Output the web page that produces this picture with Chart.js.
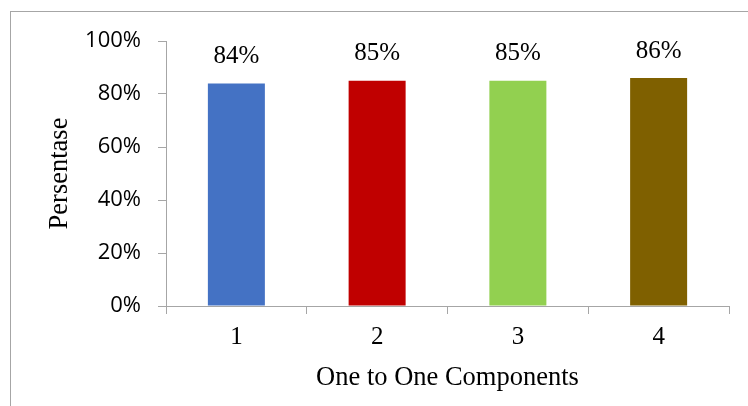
<!DOCTYPE html>
<html>
<head>
<meta charset="utf-8">
<script src="https://cdn.jsdelivr.net/npm/chart.js@4"></script>
<style>
  html, body { margin: 0; padding: 0; background: #fff; }
  #wrap { position: relative; width: 748px; height: 406px; overflow: hidden; }
  #frame { position: absolute; left: 10px; top: 11px; width: 800px; height: 500px; border: 1px solid #a6a6a6; }
  canvas { position: absolute; left: 0; top: 0; }
</style>
</head>
<body>
<div id="wrap">
  <div id="frame"></div>
  <canvas id="barChart" width="748" height="406"></canvas>
</div>
<script>
// chart data
const categories = ['1', '2', '3', '4'];
const values = [84, 85, 85, 86];
const barColors = ['#4472C4', '#C00000', '#92D050', '#7F6000'];
const yTicks = [0, 20, 40, 60, 80, 100];

const serif = "'Liberation Serif', 'Times New Roman', serif";
const sans = "'Open Sans', 'Liberation Sans', sans-serif";

// ── value labels above bars ──
const valueLabels = {
  id: 'valueLabels',
  afterDatasetsDraw(chart) {
    const ctx = chart.ctx;
    const meta = chart.getDatasetMeta(0);
    ctx.save();
    ctx.font = '25px ' + serif;
    ctx.fillStyle = '#000';
    ctx.textAlign = 'center';
    ctx.textBaseline = 'middle';
    meta.data.forEach((bar, i) => {
      ctx.fillText(values[i] + '%', bar.x, bar.y - 27);
    });
    ctx.restore();
  }
};

new Chart(document.getElementById('barChart'), {
  type: 'bar',
  data: {
    labels: categories,
    datasets: [{
      data: values,
      backgroundColor: barColors,
      borderWidth: 0,
      barPercentage: 0.405,
      categoryPercentage: 1
    }]
  },
  options: {
    responsive: false,
    animation: false,
    layout: { padding: { top: 41, right: 19, left: 0, bottom: 0 } },
    plugins: {
      legend: { display: false },
      tooltip: { enabled: false }
    },
    scales: {
      x: {
        afterFit: s => { s.height = 100; },
        grid: { drawOnChartArea: false, tickLength: 8, color: '#a6a6a6' },
        border: { color: '#a6a6a6' },
        ticks: { color: '#000', font: { family: serif, size: 25 }, padding: 8 },
        title: {
          display: true,
          text: 'One to One Components',
          color: '#000',
          font: { family: serif, size: 26.5 },
          padding: { top: 0, bottom: 12 }
        }
      },
      y: {
        min: 0,
        max: 100,
        afterFit: s => { s.width = 166; },
        afterBuildTicks: s => { s.ticks = yTicks.map(v => ({ value: v })); },
        grid: { drawOnChartArea: false, tickLength: 8, color: '#a6a6a6' },
        border: { color: '#a6a6a6' },
        ticks: {
          color: '#000',
          font: { family: sans, size: 22 },
          padding: 17,
          callback: v => v + '%'
        },
        title: {
          display: true,
          text: 'Persentase',
          color: '#000',
          font: { family: serif, size: 26.5 },
          padding: { top: 44, bottom: 0 }
        }
      }
    }
  },
  plugins: [valueLabels]
});
</script>
</body>
</html>
